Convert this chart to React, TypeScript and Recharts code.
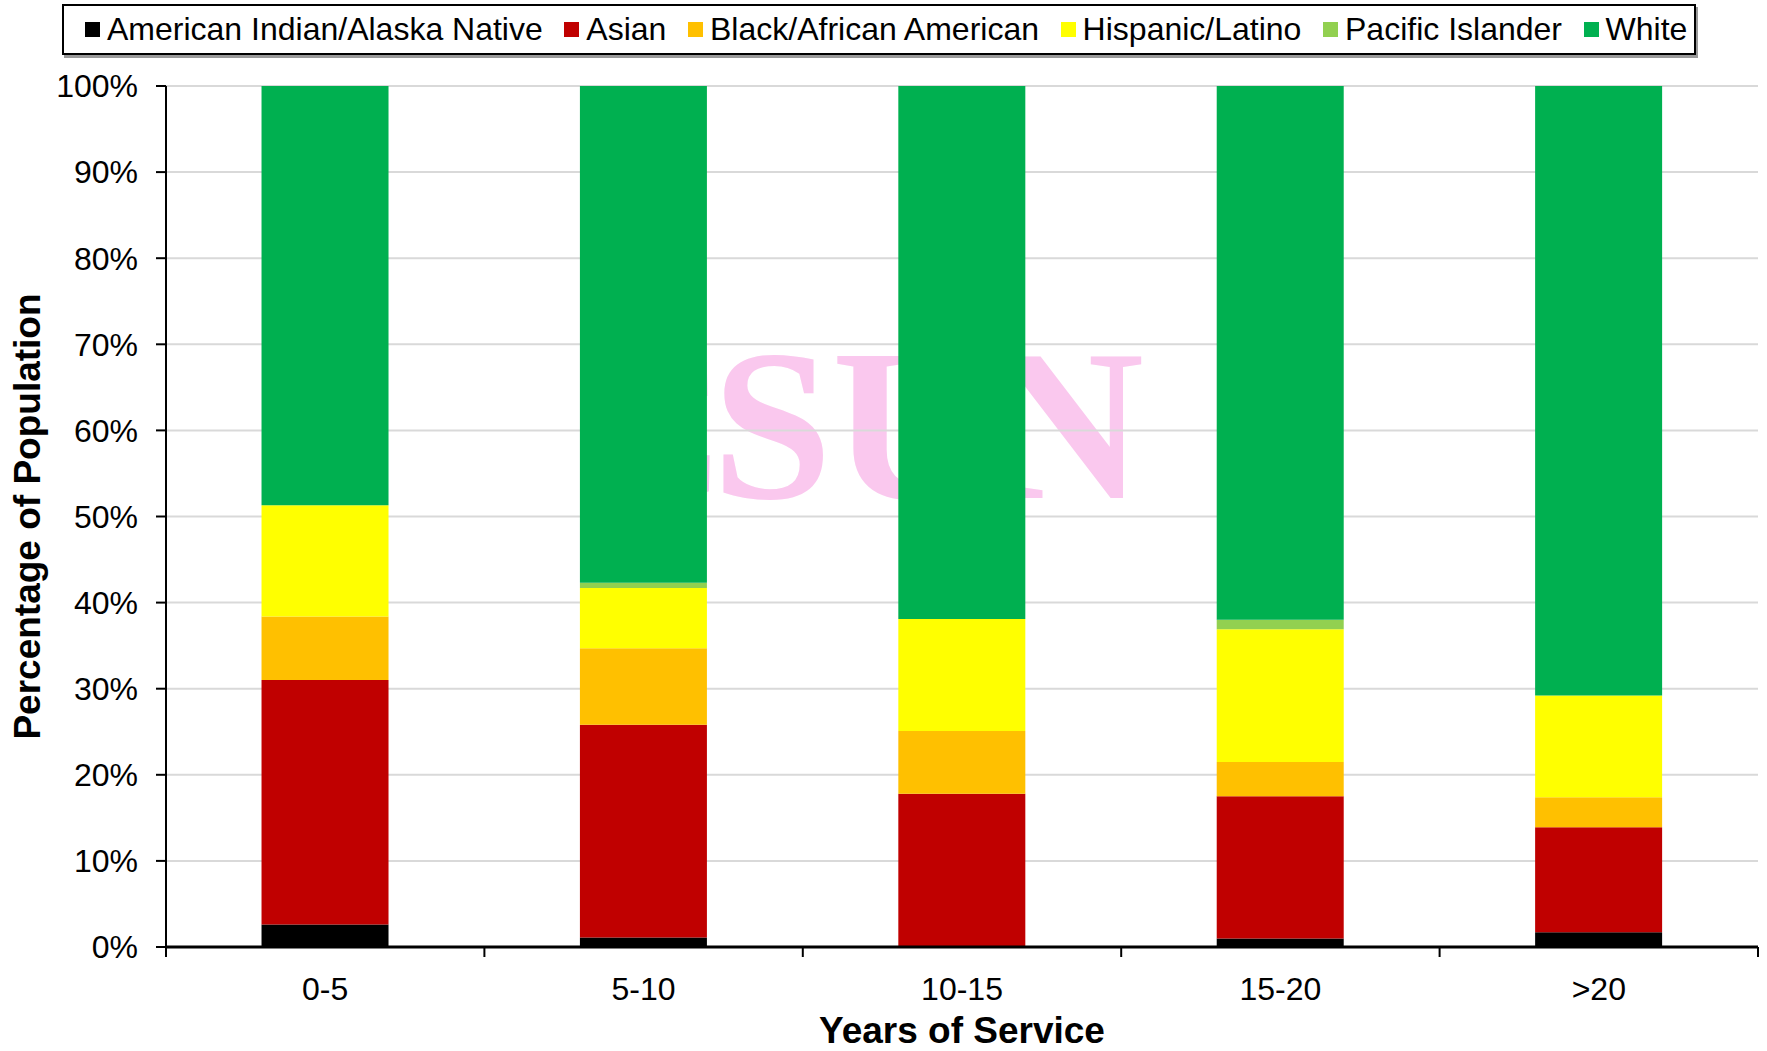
import { BarChart, Bar, XAxis, YAxis, CartesianGrid } from "recharts";

// Years-of-service buckets and the share (%) of each group in them
const categories = ["0-5", "5-10", "10-15", "15-20", ">20"];
const americanIndian = [2.6, 1.1, 0, 1.0, 1.7];
const asian = [28.4, 24.7, 17.8, 16.5, 12.2];
const blackAfrican = [7.4, 8.9, 7.3, 4.0, 3.5];
const hispanic = [12.9, 7.0, 13.0, 15.4, 11.8];
const pacificIslander = [0, 0.6, 0, 1.1, 0];
const white = [48.7, 57.7, 61.9, 62.0, 70.8];
const yTicks = [0, 10, 20, 30, 40, 50, 60, 70, 80, 90, 100];

const series = [
  { key: "aian", name: "American Indian/Alaska Native", color: "#000000", values: americanIndian },
  { key: "asian", name: "Asian", color: "#c00000", values: asian },
  { key: "black", name: "Black/African American", color: "#ffc000", values: blackAfrican },
  { key: "hispanic", name: "Hispanic/Latino", color: "#ffff00", values: hispanic },
  { key: "pacific", name: "Pacific Islander", color: "#92d050", values: pacificIslander },
  { key: "white", name: "White", color: "#00b050", values: white },
];

const chartData = categories.map((name, i) => {
  const row: Record<string, string | number> = { name };
  series.forEach((s) => {
    row[s.key] = s.values[i];
  });
  return row;
});

const W = 1767;
const H = 1051;
const MARGIN = { top: 86, right: 9, bottom: 0, left: 0 };
const Y_AXIS_W = 166;
const X_AXIS_H = 104;
const FONT = "Arial, 'Liberation Sans', sans-serif";
const SERIF = "'Liberation Serif', 'Times New Roman', serif";
const band = (W - MARGIN.left - MARGIN.right - Y_AXIS_W) / categories.length;

// Excel-style category ticks: marks sit between the bars, label in the middle
const CategoryTick = (props: any) => {
  const { x, y, payload, index } = props;
  const last = index === categories.length - 1;
  return (
    <g>
      <line x1={x - band / 2} x2={x - band / 2} y1={y} y2={y + 10} stroke="#000" strokeWidth={2} />
      {last && <line x1={x + band / 2} x2={x + band / 2} y1={y} y2={y + 10} stroke="#000" strokeWidth={2} />}
      <text x={x} y={y + 53} textAnchor="middle" fontSize={32} fontFamily={FONT} fill="#000">
        {payload.value}
      </text>
    </g>
  );
};

const LegendBox = () => (
  <div
    style={{
      position: "absolute",
      left: 62,
      top: 4,
      width: 1634,
      height: 51,
      boxSizing: "border-box",
      border: "2px solid #000",
      boxShadow: "2px 3px 0 #9a9a9a",
      background: "#fff",
      display: "flex",
      alignItems: "center",
      paddingLeft: 21,
      fontFamily: FONT,
      fontSize: 32,
      color: "#000",
      zIndex: 2,
    }}
  >
    {series.map((s) => (
      <div key={s.key} style={{ display: "flex", alignItems: "center", marginRight: 21.6 }}>
        <span style={{ width: 15, height: 15, background: s.color, marginRight: 7, display: "inline-block" }} />
        <span style={{ whiteSpace: "nowrap" }}>{s.name}</span>
      </div>
    ))}
  </div>
);

const App = () => {
  return (
    <div style={{ position: "absolute", left: 0, top: 0, width: W, height: H, background: "#fff", fontFamily: FONT }}>
      {/* faint logo watermark behind the plot */}
      <svg width={W} height={H} style={{ position: "absolute", left: 0, top: 0 }}>
        <g fontFamily={SERIF} fontWeight="bold" fontSize={216} fill="#fac8ee">
          <text x={726} y={498} textAnchor="end">
            C
          </text>
          <text x={1144} y={498} textAnchor="end">
            SUN
          </text>
        </g>
      </svg>
      <LegendBox />
      <div style={{ position: "absolute", left: 0, top: 0 }}>
        <BarChart width={W} height={H} data={chartData} margin={MARGIN} barCategoryGap="30%">
          <CartesianGrid horizontal vertical={false} stroke="#d9d9d9" strokeWidth={2} />
          <XAxis
            dataKey="name"
            height={X_AXIS_H}
            axisLine={{ stroke: "#000", strokeWidth: 3 }}
            tickLine={false}
            tickSize={0}
            tickMargin={0}
            tick={<CategoryTick />}
            interval={0}
            label={{
              value: "Years of Service",
              position: "insideBottom",
              offset: 8,
              fontSize: 37,
              fontWeight: "bold",
              fontFamily: FONT,
              fill: "#000",
            }}
          />
          <YAxis
            width={Y_AXIS_W}
            domain={[0, 100]}
            ticks={yTicks}
            tickFormatter={(v: number) => `${v}%`}
            axisLine={{ stroke: "#000", strokeWidth: 2 }}
            tickLine={{ stroke: "#000", strokeWidth: 2 }}
            tickSize={10}
            tickMargin={18}
            tick={{ fontSize: 32, fill: "#000", fontFamily: FONT }}
            label={{
              value: "Percentage of Population",
              angle: -90,
              position: "center",
              dx: -56,
              fontSize: 37,
              fontWeight: "bold",
              fontFamily: FONT,
              fill: "#000",
            }}
          />
          {series.map((s) => (
            <Bar key={s.key} dataKey={s.key} name={s.name} stackId="a" fill={s.color} isAnimationActive={false} />
          ))}
        </BarChart>
      </div>
    </div>
  );
};

export default App;
